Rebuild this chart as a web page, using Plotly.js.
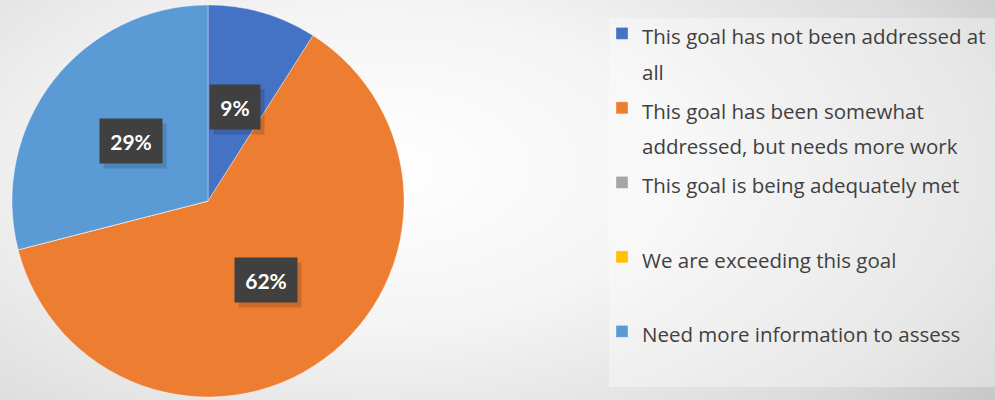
<!DOCTYPE html>
<html>
<head>
<meta charset="utf-8">
<script src="https://cdn.plot.ly/plotly-3.0.1.min.js"></script>
<style>
html,body{margin:0;padding:0;}
body{width:995px;height:400px;overflow:hidden;
background: radial-gradient(ellipse 75% 100% at 38% 42%, #ffffff 0%, #f4f4f4 40%, #dcdcdc 80%, #c8c8c8 100%);}
#chart{width:995px;height:400px;}
</style>
</head>
<body>
<div id="chart"></div>
<script>
// ---- data ----
const categories = [
  "This goal has not been addressed at<br>all",
  "This goal has been somewhat<br>addressed, but needs more work",
  "This goal is being adequately met",
  "We are exceeding this goal",
  "Need more information to assess"
];
const values = [9, 62, 0, 0, 29];
const colors = ["#4472C4", "#ED7D31", "#A5A5A5", "#FFC000", "#5B9BD5"];

// ---- layout helpers ----
const W = 995, H = 400;
const domX = [12/W, 404/W];
const domY = [(H-397)/H, (H-5)/H];

// legend labels: glyph size set by span, line pitch by the legend base size,
// padded to two lines so every entry has the same height
const legendLabels = categories.map(c => {
  const parts = c.split("<br>");
  while (parts.length < 2) parts.push("\u00a0");
  return parts.map(p => '<span style="font-size:20.5px">' + p + '</span>').join("<br>");
});

const trace = {
  type: "pie",
  labels: legendLabels,
  values: values,
  sort: false,
  direction: "clockwise",
  rotation: 0,
  textinfo: "none",
  hoverinfo: "label+percent",
  marker: {colors: colors, line: {color: "rgba(255,255,255,0.35)", width: 1}},
  domain: {x: domX, y: domY},
  showlegend: true
};

// data labels at half radius along each slice's mid-angle
const labelFont = {family: "Lato, 'Open Sans', sans-serif", size: 21, color: "#ffffff"};
const ctx = document.createElement("canvas").getContext("2d");
ctx.font = "bold 21px Lato, 'Open Sans', sans-serif";
const total = values.reduce((a, b) => a + b, 0);
const cxPx = (domX[0] + domX[1]) / 2 * W;
const cyPx = (domY[0] + domY[1]) / 2 * H;   // from bottom
const Rpx = Math.min((domX[1]-domX[0])*W, (domY[1]-domY[0])*H) / 2;
const annotations = [];
let cum = 0;
values.forEach((v, i) => {
  const start = cum;
  cum += v;
  if (v <= 0) return;
  const mid = (start + v / 2) / total * 2 * Math.PI;
  const px = cxPx + 0.5 * Rpx * Math.sin(mid);
  const py = cyPx + 0.5 * Rpx * Math.cos(mid);
  const txt = Math.round(v / total * 100) + "%";
  const tw = Math.ceil(ctx.measureText(txt).width) + 2;
  const common = {xref: "paper", yref: "paper", x: px / W, y: py / H,
    xanchor: "center", yanchor: "middle", width: tw, height: 26,
    showarrow: false, borderpad: 9};
  // soft drop shadow (no text)
  annotations.push(Object.assign({}, common, {
    text: " ", bgcolor: "rgba(0,0,0,0.14)", xshift: 4, yshift: -5,
    font: Object.assign({}, labelFont, {color: "rgba(0,0,0,0)"})
  }));
  annotations.push(Object.assign({}, common, {
    text: "<b>" + txt + "</b>", bgcolor: "#404040", font: labelFont
  }));
});

const layout = {
  width: W, height: H,
  margin: {l: 0, r: 0, t: 0, b: 0},
  paper_bgcolor: "rgba(0,0,0,0)",
  plot_bgcolor: "rgba(0,0,0,0)",
  showlegend: true,
  legend: {
    x: 602/W, xanchor: "left",
    y: 1 - 9/H, yanchor: "top",
    valign: "top",
    bgcolor: "rgba(0,0,0,0)",
    font: {family: "'Open Sans', sans-serif", size: 27.5, color: "#404040"},
    traceorder: "normal"
  },
  shapes: [{
    type: "rect", xref: "paper", yref: "paper", layer: "below",
    x0: 609/W, x1: 1, y0: 1 - 387/H, y1: 1 - 18/H,
    fillcolor: "rgba(255,255,255,0.35)", line: {width: 0}
  }],
  annotations: annotations
};

Plotly.newPlot("chart", [trace], layout, {displayModeBar: false, staticPlot: true});
</script>
</body>
</html>
